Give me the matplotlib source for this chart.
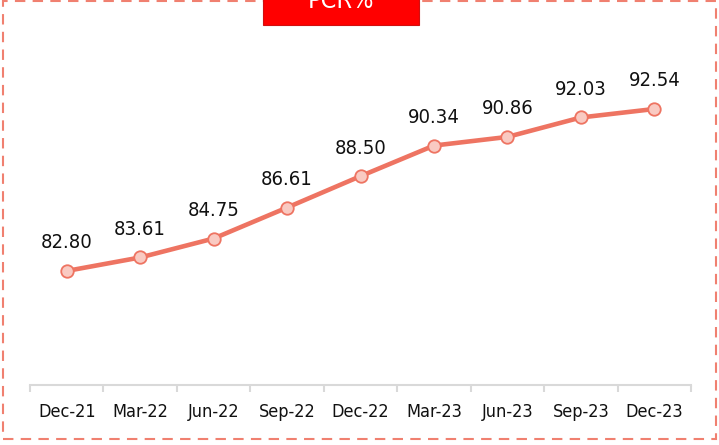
import matplotlib
matplotlib.use("Agg")
import matplotlib.pyplot as plt
from matplotlib.patches import Rectangle

categories = ["Dec-21", "Mar-22", "Jun-22", "Sep-22", "Dec-22", "Mar-23", "Jun-23", "Sep-23", "Dec-23"]
values = [82.80, 83.61, 84.75, 86.61, 88.50, 90.34, 90.86, 92.03, 92.54]
title = "PCR%"

W, H = 719, 445
fig = plt.figure(figsize=(W / 100, H / 100), dpi=100)
plt.rcParams['font.family'] = ['DejaVu Sans']
plt.rcParams['font.stretch'] = 'condensed'

def fx(x): return x / W
def fy(y): return 1 - y / H

ax = fig.add_axes([fx(30), fy(385), fx(691) - fx(30), fy(40) - fy(385)])
x = list(range(len(categories)))
line_c = "#EE7462"
ax.plot(x, values, color=line_c, lw=3.3, marker="o", markersize=9,
        markerfacecolor="#F9CAC2", markeredgecolor=line_c, markeredgewidth=1.3, zorder=3)
for xi, v in zip(x, values):
    ax.annotate(f"{v:.2f}", (xi, v), xytext=(0, 28), textcoords="offset pixels",
                ha="center", va="center", fontsize=14.5, color="#111111",
                fontstretch="condensed")

ax.set_xlim(-0.5, len(categories) - 0.5)
ax.set_ylim(75.94, 96.69)
ax.set_xticks(x)
ax.set_xticklabels(categories, fontsize=13, color="#111111", fontstretch="condensed")
ax.set_xticks([i - 0.5 for i in range(len(categories) + 1)], minor=True)
ax.tick_params(axis="x", which="major", length=0, pad=13)
ax.tick_params(axis="x", which="minor", length=5, color="#D9D9D9", width=1.5)
ax.set_yticks([])
for s in ["top", "right", "left"]:
    ax.spines[s].set_visible(False)
ax.spines["bottom"].set_color("#D9D9D9")
ax.spines["bottom"].set_linewidth(1.5)

# dashed border
fig.patches.append(Rectangle((fx(3), fy(439)), fx(716) - fx(3), fy(1) - fy(439),
                             transform=fig.transFigure, fill=False, edgecolor="#F08070",
                             lw=1.5, linestyle=(0, (5, 3.5)), zorder=1))
# red title box
fig.patches.append(Rectangle((fx(263), fy(25)), fx(419) - fx(263), fy(-10) - fy(25),
                             transform=fig.transFigure, facecolor="#FF0000",
                             edgecolor="#D01010", lw=0.8, zorder=2))
fig.text(fx(341), fy(8), title, ha="center", va="baseline", color="white",
         fontsize=18, zorder=3, fontstretch="condensed")

fig.savefig("out.png", dpi=100)
